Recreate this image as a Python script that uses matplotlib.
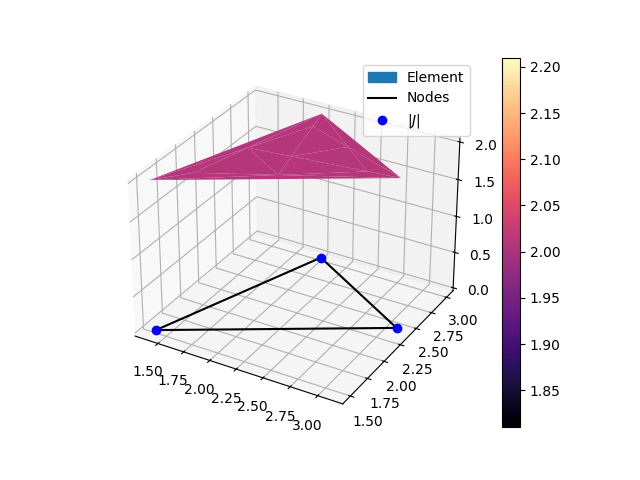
import numpy as np
import matplotlib
matplotlib.use("Agg")
import matplotlib.pyplot as plt
from matplotlib.patches import Patch

node_x = [1.4, 3.1, 2.0, 1.4]
node_y = [1.5, 2.4, 3.0, 1.5]
node_z = [0.0, 0.0, 0.0, 0.0]
bary_a = [1, 0, 0, 1/3, 0.0597, 0.4701, 0.4701, 0.7974, 0.1013, 0.1013]
bary_b = [0, 1, 0, 1/3, 0.4701, 0.0597, 0.4701, 0.1013, 0.7974, 0.1013]
bary_c = [0, 0, 1, 1/3, 0.4701, 0.4701, 0.0597, 0.1013, 0.1013, 0.7974]
jac_z = [2.01] * 10
vmin, vmax = 1.81, 2.21

a, b, c = map(np.array, (bary_a, bary_b, bary_c))
px = a*node_x[0] + b*node_x[1] + c*node_x[2]
py = a*node_y[0] + b*node_y[1] + c*node_y[2]

fig = plt.figure()
ax = fig.add_subplot(projection='3d')
surf = ax.plot_trisurf(px, py, jac_z, cmap='magma', vmin=vmin, vmax=vmax)
l1, = ax.plot(node_x, node_y, node_z, 'k-')
l2, = ax.plot(node_x[:3], node_y[:3], node_z[:3], 'bo')
ax.legend([Patch(color='C0'), l1, l2], ['Element', 'Nodes', '$|J|$'],
          loc='upper right', bbox_to_anchor=(470/640, 1-65/480), bbox_transform=fig.transFigure, borderaxespad=0)
fig.colorbar(surf, ax=ax)
fig.savefig('out.png', dpi=100)
